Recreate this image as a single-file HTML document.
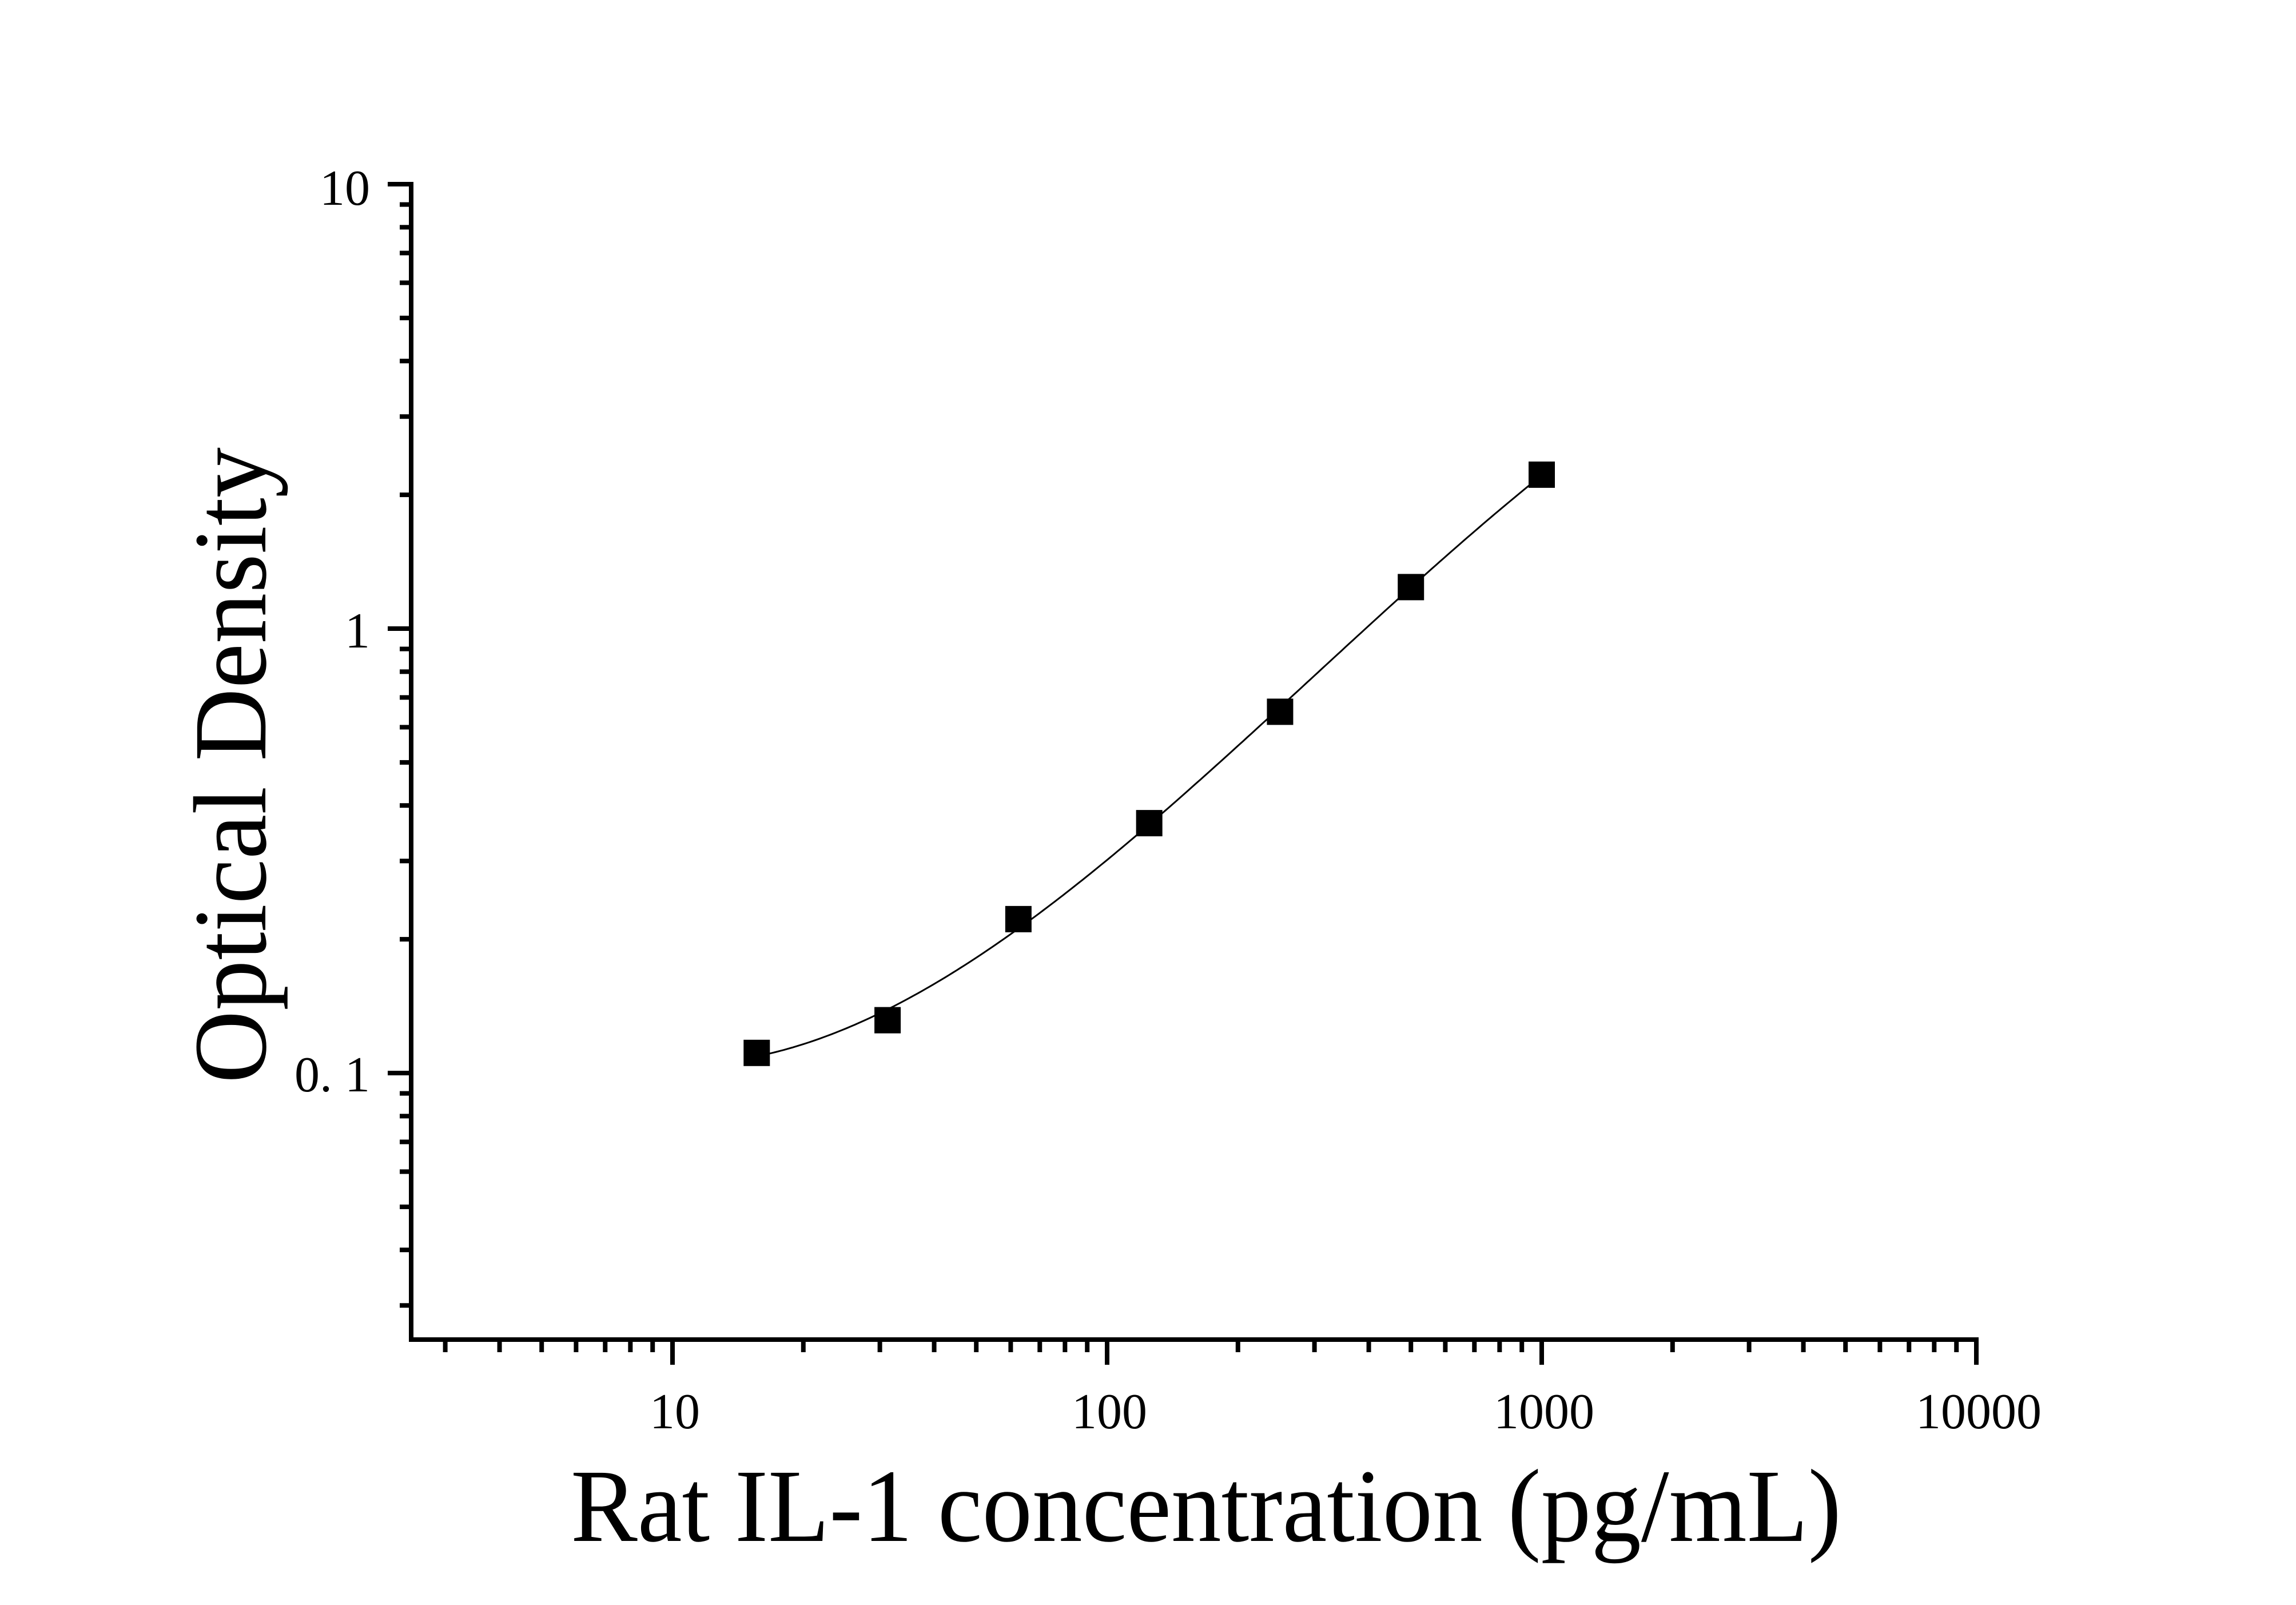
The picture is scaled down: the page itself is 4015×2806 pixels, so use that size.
<!DOCTYPE html>
<html><head><meta charset="utf-8"><style>
html,body{margin:0;padding:0;background:#fff;}
svg{display:block;}
text{font-family:"Liberation Serif",serif;fill:#000;}
</style></head><body>
<svg id="s" width="4015" height="2806" viewBox="0 0 4015 2806" xmlns="http://www.w3.org/2000/svg">
<rect width="4015" height="2806" fill="#fff"/>
<g id="ticks"></g>
<rect x="715" y="322" width="8" height="2024" fill="#000"/>
<rect x="715" y="2338" width="2745" height="8" fill="#000"/>
<path id="curve" fill="none" stroke="#000" stroke-width="3"/>
<g id="marks"></g>
<g font-size="88" text-anchor="end">
<text x="647" y="358">10</text>
<text x="647" y="1132">1</text>
<text x="647" y="1908">0. 1</text>
</g>
<g font-size="88" text-anchor="middle">
<text x="1180" y="2497">10</text>
<text x="1940" y="2497">100</text>
<text x="2700" y="2497">1000</text>
<text x="3460" y="2497">10000</text>
</g>
<text x="2109" y="2694" font-size="182" text-anchor="middle" textLength="2222" lengthAdjust="spacingAndGlyphs">Rat IL-1 concentration (pg/mL)</text>
<text transform="translate(464,1338) rotate(-90)" font-size="182" text-anchor="middle" textLength="1112" lengthAdjust="spacingAndGlyphs">Optical Density</text>
</svg>
<script>
var NS="http://www.w3.org/2000/svg";
function X(v){return 1176+760*(Math.log10(v)-1);}
function Y(v){return 1099-777*Math.log10(v);}
var t=document.getElementById('ticks');
function r(x,y,w,h){var e=document.createElementNS(NS,'rect');e.setAttribute('x',x);e.setAttribute('y',y);e.setAttribute('width',w);e.setAttribute('height',h);e.setAttribute('fill','#000');t.appendChild(e);}
[1,10,100,1000].forEach(function(d){for(var k=1;k<=10;k++){var v=d*k;if(v<3)continue;if(v>10000)continue;var x=X(v);if(k==1||k==10){r(x-4,2338,8,48);}else{r(x-4,2338,8,26);}}});
[0.01,0.1,1].forEach(function(d){for(var k=1;k<=10;k++){var v=d*k;if(v<0.029)continue;if(v>10.001)continue;var y=Y(v);if(k==1||k==10){r(678,y-4,45,8);}else{r(699,y-4,24,8);}}});
var data=[[15.625,0.111],[31.25,0.1315],[62.5,0.222],[125,0.365],[250,0.65],[500,1.24],[1000,2.22]];
var m=document.getElementById('marks');
data.forEach(function(p){var x=X(p[0]),y=Y(p[1]);var e=document.createElementNS(NS,'rect');e.setAttribute('x',x-23);e.setAttribute('y',y-23);e.setAttribute('width',46);e.setAttribute('height',46);e.setAttribute('fill','#000');m.appendChild(e);});
// cubic least squares fit in log-log
var n=4,A=[],B=[];for(var i=0;i<n;i++){A.push([0,0,0,0]);B.push(0);}
data.forEach(function(p){var u=Math.log10(p[0])-2,w=Math.log10(p[1]);var pw=[1,u,u*u,u*u*u];for(var i=0;i<n;i++){for(var j=0;j<n;j++)A[i][j]+=pw[i]*pw[j];B[i]+=pw[i]*w;}});
for(var i=0;i<n;i++){var piv=A[i][i];for(var k=i+1;k<n;k++){var f=A[k][i]/piv;for(var j=i;j<n;j++)A[k][j]-=f*A[i][j];B[k]-=f*B[i];}}
var c=[0,0,0,0];for(var i=n-1;i>=0;i--){var s=B[i];for(var j=i+1;j<n;j++)s-=A[i][j]*c[j];c[i]=s/A[i][i];}
var d='';var u0=Math.log10(15.625),u1=3;
for(var k=0;k<=200;k++){var lu=u0+(u1-u0)*k/200,u=lu-2;var w=c[0]+c[1]*u+c[2]*u*u+c[3]*u*u*u;var x=1176+760*(lu-1),y=1099-777*w;d+=(k?' L':'M')+x.toFixed(1)+','+y.toFixed(1);}
document.getElementById('curve').setAttribute('d',d);
</script>
</body></html>
